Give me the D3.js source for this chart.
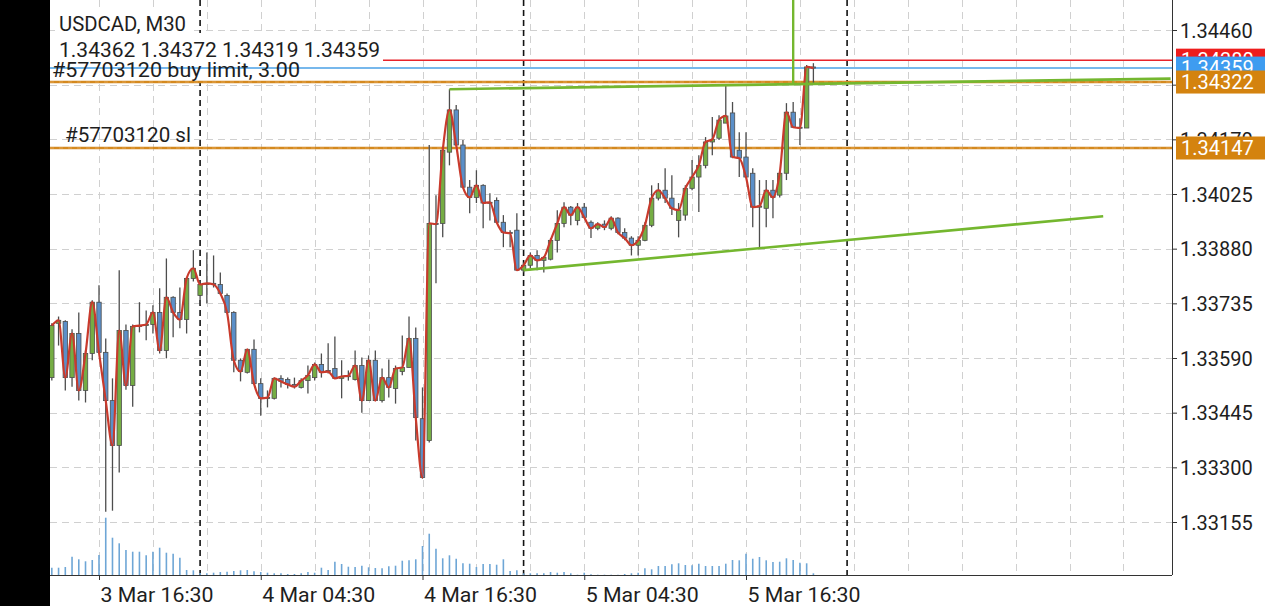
<!DOCTYPE html>
<html><head><meta charset="utf-8">
<script src="https://cdn.jsdelivr.net/npm/d3@7"></script>
<style>html,body{margin:0;padding:0;background:#fff;overflow:hidden}svg{display:block;font-family:Roboto,"Noto Sans",sans-serif}</style>
</head><body><svg id="c" width="1280" height="606"></svg>
<script>
// ---------- data ----------
const symbolTitle = "USDCAD, M30";
const ohlcText = "1.34362 1.34372 1.34319 1.34359";
const orderText = "#57703120 buy limit, 3.00";
const slText = "#57703120 sl";
const barStart = "2020-03-03T13:00:00Z"; // M30 bars
const opens = [1.33538,1.33682,1.33687,1.33538,1.33655,1.33504,1.33602,1.33738,1.33605,1.33477,
1.33358,1.33663,1.33517,1.33674,1.33676,1.33679,1.33711,1.33610,1.33751,1.33711,
1.33692,1.33801,1.33756,1.33785,1.33788,1.33785,1.33756,1.33711,1.33584,1.33552,
1.33613,1.33522,1.33483,1.33483,1.33536,1.33533,1.33520,1.33512,1.33530,1.33538,
1.33573,1.33557,1.33562,1.33536,1.33541,1.33533,1.33570,1.33477,1.33584,1.33477,
1.33538,1.33509,1.33554,1.33565,1.33642,1.33429,1.33371,1.33947,1.33947,1.34136,
1.34248,1.34155,1.34043,1.34016,1.34048,1.34001,1.34008,1.33950,1.33923,1.33929,
1.33823,1.33836,1.33862,1.33849,1.33852,1.33902,1.33947,1.33990,1.33955,1.33990,
1.33950,1.33934,1.33945,1.33934,1.33961,1.33923,1.33908,1.33889,1.33902,1.33942,
1.34014,1.34035,1.34014,1.33955,1.33969,1.34040,1.34070,1.34101,1.34163,1.34173,
1.34213,1.34240,1.34141,1.34123,1.34080,1.33990,1.33987,1.34035,1.34022,1.34080,
1.34242,1.34202,1.34200,1.34362];
const highs = [1.33682,1.33700,1.33690,1.33666,1.33711,1.33610,1.33743,1.33783,1.33642,1.33536,
1.33823,1.33679,1.33679,1.33738,1.33716,1.33730,1.33775,1.33854,1.33754,1.33777,
1.33804,1.33876,1.33796,1.33870,1.33862,1.33817,1.33761,1.33714,1.33589,1.33613,
1.33639,1.33536,1.33504,1.33538,1.33544,1.33538,1.33538,1.33536,1.33570,1.33578,
1.33602,1.33629,1.33647,1.33584,1.33557,1.33610,1.33591,1.33597,1.33610,1.33562,
1.33586,1.33570,1.33650,1.33700,1.33671,1.33512,1.34155,1.34022,1.34147,1.34303,
1.34261,1.34168,1.34062,1.34088,1.34051,1.34027,1.34016,1.33969,1.33929,1.33974,
1.33844,1.33870,1.33876,1.33860,1.33908,1.33982,1.34003,1.33993,1.34001,1.34001,
1.33955,1.33950,1.33955,1.33966,1.33963,1.33934,1.33913,1.33913,1.33950,1.34048,
1.34054,1.34093,1.34075,1.34001,1.34048,1.34115,1.34128,1.34176,1.34229,1.34234,
1.34314,1.34269,1.34189,1.34189,1.34093,1.34062,1.34062,1.34062,1.34083,1.34266,
1.34269,1.34226,1.34367,1.34372];
const lows = [1.33530,1.33623,1.33504,1.33514,1.33477,1.33472,1.33584,1.33605,1.33182,1.33185,
1.33286,1.33506,1.33461,1.33658,1.33637,1.33655,1.33602,1.33589,1.33645,1.33669,
1.33655,1.33793,1.33730,1.33735,1.33777,1.33761,1.33708,1.33552,1.33528,1.33549,
1.33520,1.33437,1.33459,1.33480,1.33512,1.33509,1.33509,1.33509,1.33496,1.33530,
1.33538,1.33549,1.33536,1.33483,1.33530,1.33530,1.33445,1.33477,1.33477,1.33472,
1.33485,1.33469,1.33544,1.33565,1.33371,1.33270,1.33366,1.33788,1.33910,1.34101,
1.34152,1.34040,1.33974,1.34001,1.33934,1.33955,1.33950,1.33884,1.33884,1.33823,
1.33817,1.33828,1.33823,1.33817,1.33849,1.33870,1.33937,1.33942,1.33942,1.33963,
1.33908,1.33929,1.33929,1.33929,1.33918,1.33902,1.33862,1.33862,1.33900,1.33937,
1.34008,1.34001,1.33969,1.33910,1.33955,1.34035,1.33977,1.34093,1.34128,1.34168,
1.34213,1.34120,1.34070,1.34070,1.33937,1.33881,1.33937,1.33961,1.34016,1.34062,
1.34202,1.34155,1.34200,1.34319];
const closes = [1.33676,1.33690,1.33538,1.33655,1.33504,1.33602,1.33738,1.33605,1.33477,1.33358,
1.33663,1.33517,1.33674,1.33676,1.33679,1.33711,1.33610,1.33751,1.33711,1.33692,
1.33801,1.33828,1.33785,1.33788,1.33785,1.33761,1.33711,1.33584,1.33554,1.33613,
1.33522,1.33483,1.33485,1.33536,1.33528,1.33520,1.33514,1.33530,1.33544,1.33573,
1.33552,1.33554,1.33536,1.33541,1.33543,1.33570,1.33477,1.33584,1.33477,1.33538,
1.33512,1.33562,1.33565,1.33642,1.33432,1.33273,1.33947,1.33945,1.34141,1.34248,
1.34155,1.34043,1.34016,1.34048,1.34001,1.34003,1.33950,1.33923,1.33921,1.33823,
1.33836,1.33862,1.33849,1.33857,1.33902,1.33947,1.33990,1.33969,1.33990,1.33963,
1.33934,1.33945,1.33937,1.33961,1.33923,1.33908,1.33889,1.33902,1.33942,1.34014,
1.34035,1.34014,1.33987,1.33982,1.34040,1.34070,1.34101,1.34163,1.34170,1.34221,
1.34232,1.34123,1.34120,1.34070,1.33990,1.33993,1.34035,1.34016,1.34080,1.34242,
1.34202,1.34200,1.34362,1.34359];
const volumes = [73,73,80,183,157,137,150,200,573,373,
317,250,233,233,197,233,273,223,213,173,
50,47,20,17,23,30,33,40,47,50,
37,30,23,17,17,10,10,17,30,23,
73,50,133,110,83,80,93,77,70,67,
87,93,143,147,157,290,413,263,167,197,
163,117,113,80,110,110,103,157,40,47,
17,17,17,17,30,23,30,17,3,23,
7,3,3,3,3,10,17,23,67,57,
90,90,107,117,100,97,113,90,90,90,
113,150,147,213,163,180,147,130,133,167,
150,123,117,17];
const priceTicks = [1.34460,1.34315,1.34170,1.34025,1.33880,1.33735,1.33590,1.33445,1.33300,1.33155];
const timeTicks = ["2020-03-03T16:30:00Z","2020-03-04T04:30:00Z","2020-03-04T16:30:00Z","2020-03-05T04:30:00Z","2020-03-05T16:30:00Z"];
const timeTickLabels = ["3 Mar 16:30","4 Mar 04:30","4 Mar 16:30","5 Mar 04:30","5 Mar 16:30"];
const daySeparators = ["2020-03-04T00:00:00Z","2020-03-05T00:00:00Z","2020-03-06T00:00:00Z"];
const askPrice = 1.34380, bidPrice = 1.34359, orderPrice = 1.34322, slPrice = 1.34147;
const upperTrend = [["2020-03-04T18:30:00Z",1.34303],["2020-03-07T00:00:00Z",1.34331]];
const lowerTrend = [["2020-03-05T00:00:00Z",1.33823],["2020-03-06T19:00:00Z",1.33966]];
const vLineTime = "2020-03-05T20:00:00Z";

// ---------- layout ----------
const L = 50, R = 1172, B = 575;
const svg = d3.select("#c");
const x = d3.scaleUtc().domain([new Date(timeTicks[0]), new Date(timeTicks[4])]).range([99, 746]);
const y = d3.scaleLinear().domain([1.33155, 1.34460]).range([522, 30]);
const vY = d3.scaleLinear().domain([0, 573]).range([B, B - 57.3]);
const t0 = new Date(barStart).getTime();
const bars = closes.map((c, i) => ({t: new Date(t0 + i * 1800000), o: opens[i], h: highs[i], l: lows[i], c, v: volumes[i]}));

svg.append("rect").attr("x", 0).attr("y", 0).attr("width", 1280).attr("height", 606).attr("fill", "#fff");
svg.append("defs").append("clipPath").attr("id", "plot").append("rect").attr("x", L).attr("y", 0).attr("width", R - L).attr("height", B);
const g = svg.append("g").attr("clip-path", "url(#plot)");

// grid
g.selectAll(".hg").data(priceTicks).join("line")
  .attr("x1", L).attr("x2", R).attr("y1", d => Math.round(y(d)) + 0.5).attr("y2", d => Math.round(y(d)) + 0.5)
  .attr("stroke", "#d0d0d0").attr("stroke-dasharray", "7,5");
const gridTimes = d3.utcHour.every(4).range(new Date("2020-03-03T00:00:00Z"), new Date("2020-03-07T04:00:00Z")).map(d => new Date(d.getTime() + 30 * 60000));
g.selectAll(".vg").data(gridTimes).join("line")
  .attr("x1", d => Math.round(x(d)) + 0.5).attr("x2", d => Math.round(x(d)) + 0.5).attr("y1", 0).attr("y2", B)
  .attr("stroke", "#d0d0d0").attr("stroke-dasharray", "7,5");
g.selectAll(".sep").data(daySeparators).join("line")
  .attr("x1", d => x(new Date(d))).attr("x2", d => x(new Date(d))).attr("y1", 0).attr("y2", B)
  .attr("stroke", "#111").attr("stroke-width", 1.6).attr("stroke-dasharray", "6,4");

// ask line (hidden under info block)
g.append("line").attr("x1", L).attr("x2", R).attr("y1", y(askPrice)).attr("y2", y(askPrice)).attr("stroke", "#e8232a").attr("stroke-width", 1.5);
// info block backgrounds
g.append("rect").attr("x", 55).attr("y", 9).attr("width", 135).attr("height", 24).attr("fill", "#fff");
g.append("rect").attr("x", L).attr("y", 33).attr("width", 333).attr("height", 49).attr("fill", "#fff");

// bid / order lines
g.append("line").attr("x1", L).attr("x2", R).attr("y1", y(bidPrice)).attr("y2", y(bidPrice)).attr("stroke", "#4aa0e6").attr("stroke-width", 1.5);
[orderPrice, slPrice].forEach(p => {
  g.append("line").attr("x1", L).attr("x2", R).attr("y1", y(p)).attr("y2", y(p)).attr("stroke", "#d4891f").attr("stroke-width", 2.4);
  g.append("line").attr("x1", L).attr("x2", R).attr("y1", y(p)).attr("y2", y(p)).attr("stroke", "#e6a95a").attr("stroke-width", 0.8).attr("stroke-dasharray", "4,5");
});

// volumes
g.selectAll(".vol").data(bars).join("line")
  .attr("x1", d => x(d.t)).attr("x2", d => x(d.t)).attr("y1", B).attr("y2", d => vY(d.v))
  .attr("stroke", "#6ea6d6").attr("stroke-width", 1.6);

// candles
g.selectAll(".wick").data(bars).join("line")
  .attr("x1", d => x(d.t)).attr("x2", d => x(d.t)).attr("y1", d => y(d.h)).attr("y2", d => y(d.l))
  .attr("stroke", "#4d4d4d").attr("stroke-width", 1.3);
const bw = 4.4;
g.selectAll(".body").data(bars).join("rect")
  .attr("x", d => x(d.t) - bw / 2).attr("width", bw)
  .attr("y", d => y(Math.max(d.o, d.c))).attr("height", d => Math.max(1, Math.abs(y(d.o) - y(d.c))))
  .attr("fill", d => d.c >= d.o ? "#75ad44" : "#5b8fc8").attr("stroke", "#4d4d4d").attr("stroke-width", 0.8);

// close line
g.append("path").datum(bars)
  .attr("d", d3.line().x(d => x(d.t)).y(d => y(d.c)).curve(d3.curveMonotoneX))
  .attr("fill", "none").attr("stroke", "#c93a2c").attr("stroke-width", 2.2);

// trend lines
[[upperTrend, "#74b72f"], [lowerTrend, "#74b72f"]].forEach(([tl, col]) => {
  g.append("line").attr("x1", x(new Date(tl[0][0]))).attr("y1", y(tl[0][1]))
    .attr("x2", x(new Date(tl[1][0]))).attr("y2", y(tl[1][1]))
    .attr("stroke", col).attr("stroke-width", 2.6);
});
const ut0 = new Date(upperTrend[0][0]).getTime(), ut1 = new Date(upperTrend[1][0]).getTime();
const vt = new Date(vLineTime).getTime();
const vp = upperTrend[0][1] + (upperTrend[1][1] - upperTrend[0][1]) * (vt - ut0) / (ut1 - ut0);
g.append("line").attr("x1", x(new Date(vLineTime))).attr("x2", x(new Date(vLineTime))).attr("y1", 0).attr("y2", y(vp))
  .attr("stroke", "#74b72f").attr("stroke-width", 2.4);

// texts (widths fitted to the reference)
const txt = (s, tx, ty, fs, len) => svg.append("text").attr("x", tx).attr("y", ty).attr("font-size", fs)
  .attr("fill", "#1e1e1e").attr("textLength", len).attr("lengthAdjust", "spacingAndGlyphs").text(s);
txt(symbolTitle, 59, 31, 20, 127);
txt(ohlcText, 59, 57, 20, 321);
txt(orderText, 52, 77, 20, 248);
txt(slText, 65, 142, 20, 126);

// black left band
svg.append("rect").attr("x", 0).attr("y", 0).attr("width", L).attr("height", 606).attr("fill", "#000");

// axes
const yAxis = svg.append("g").attr("transform", `translate(${R},0)`)
  .call(d3.axisRight(y).tickValues(priceTicks).tickFormat(d3.format(".5f")).tickSize(5).tickPadding(3));
yAxis.select(".domain").attr("d", `M0.5,0V${B}`).attr("stroke", "#333");
yAxis.selectAll(".tick line").attr("stroke", "#333");
yAxis.selectAll(".tick text").attr("font-size", 20).attr("font-family", "Roboto").attr("fill", "#1e1e1e").attr("dy", "0.35em");
const xAxis = svg.append("g").attr("transform", `translate(0,${B})`)
  .call(d3.axisBottom(x).tickValues(timeTicks.map(d => new Date(d))).tickFormat((d, i) => timeTickLabels[i]).tickSize(5).tickPadding(4));
xAxis.select(".domain").attr("d", `M${L},0.5H${R}`).attr("stroke", "#333");
xAxis.selectAll(".tick line").attr("stroke", "#333");
xAxis.selectAll(".tick text").attr("font-size", 20).attr("font-family", "Roboto").attr("fill", "#1e1e1e")
  .attr("text-anchor", "start").attr("x", 1).attr("dy", "0.9em")
  .attr("textLength", 113).attr("lengthAdjust", "spacingAndGlyphs");

// price boxes on the right
const boxes = [[askPrice, "#ee1c1c"], [bidPrice, "#3e9cf0"], [orderPrice, "#d4830f"], [slPrice, "#d4830f"]];
boxes.forEach(([p, col]) => {
  const cy = y(p);
  svg.append("rect").attr("x", 1176).attr("y", cy - 11.5).attr("width", 89).attr("height", 23).attr("fill", col);
  svg.append("text").attr("x", 1181).attr("y", cy).attr("dy", "0.36em").attr("font-size", 20).attr("fill", "#fff").text(d3.format(".5f")(p));
});
</script></body></html>
